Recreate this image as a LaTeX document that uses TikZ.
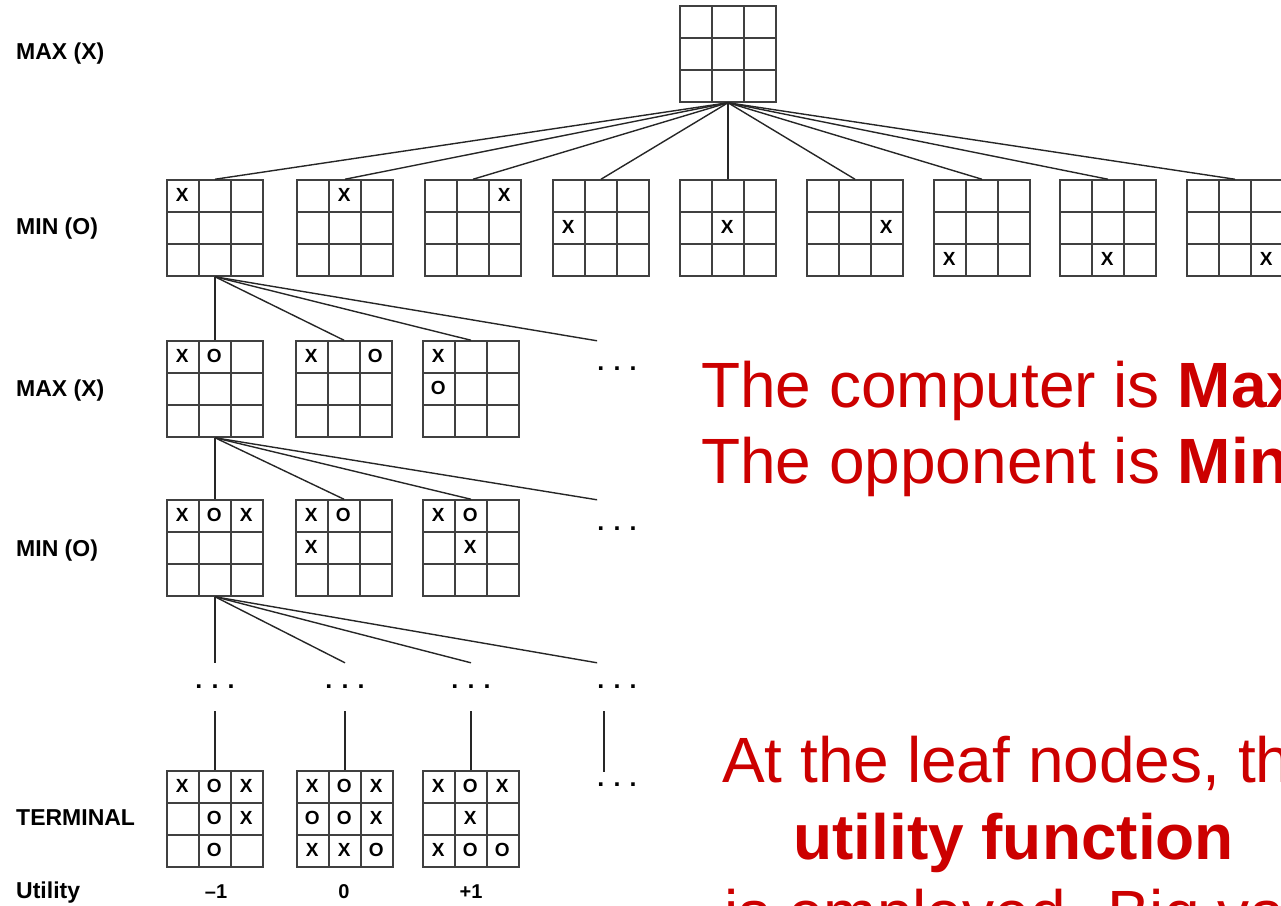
\documentclass[tikz,border=0pt]{standalone}
\usepackage{fontspec}
\setmainfont{Liberation Sans}
\usetikzlibrary{calc,positioning}
\definecolor{slidered}{RGB}{204,0,0}
\tikzset{
  board/.style={draw=black!75, line width=1.5pt, minimum size=96pt, inner sep=0pt,
    path picture={
      \foreach \d in {-16,16}{
        \draw[black!75, line width=1.5pt] ($(path picture bounding box.center)+(\d,-48)$) -- ++(0,96);
        \draw[black!75, line width=1.5pt] ($(path picture bounding box.center)+(-48,\d)$) -- ++(96,0);
      }}},
  mk/.style={font=\bfseries\fontsize{19}{19}\selectfont, inner sep=0pt},
  edge/.style={draw=black!85, line width=1.4pt},
  dots/.style={font=\bfseries\fontsize{25}{25}\selectfont, inner sep=0pt},
  lvl/.style={font=\bfseries\fontsize{23}{23}\selectfont, anchor=base west, inner sep=0pt},
  util/.style={font=\bfseries\fontsize{20}{20}\selectfont, anchor=base, inner sep=0pt},
  note/.style={text=slidered, font=\fontsize{64}{64}\selectfont, inner sep=0pt, anchor=base west}
}
\newcommand{\putmarks}[2]{\foreach \col/\row/\sym in {#2} \node[mk] at ($(#1.north west)+(\col*32-16,\row*32-16)$) {\sym};}

\begin{document}
\begin{tikzpicture}[x=1pt,y=-1pt]
\useasboundingbox (0,0) rectangle (1281,905);
\clip (0,0) rectangle (1281,905);

\node[board] (r0) at (728,54) {};%root

\foreach \i/\px in {1/215,2/345,3/473,4/601,5/728,6/855,7/982,8/1108,9/1235}{
  \node[board] (m\i) at (\px,228) {};
  \pgfmathtruncatemacro{\col}{mod(\i-1,3)+1}
  \pgfmathtruncatemacro{\row}{div(\i-1,3)+1}
  \node[mk] at ($(m\i.north west)+(\col*32-16,\row*32-16)$) {X};
  \draw[edge] (r0.south) -- (m\i.north);
}%first move of X

\node[board] (x1) at (215,389) {};%second level
\node[board] (x2) at (344,389) {};
\node[board] (x3) at (471,389) {};
\node[dots, minimum height=56pt] (d2) at (617,369) {. . .};
\putmarks{x1}{1/1/X,2/1/O}
\putmarks{x2}{1/1/X,3/1/O}
\putmarks{x3}{1/1/X,1/2/O}

\node[board] (n1) at (215,548) {};%third level
\node[board] (n2) at (344,548) {};
\node[board] (n3) at (471,548) {};
\node[dots, minimum height=58pt] (d3) at (617,529) {. . .};
\putmarks{n1}{1/1/X,2/1/O,3/1/X}
\putmarks{n2}{1/1/X,2/1/O,1/2/X}
\putmarks{n3}{1/1/X,2/1/O,2/2/X}

\node[dots, minimum height=48pt] (g1) at (215,687) {. . .};%unexpanded levels
\node[dots, minimum height=48pt] (g2) at (345,687) {. . .};
\node[dots, minimum height=48pt] (g3) at (471,687) {. . .};
\node[dots, minimum height=48pt] (g4) at (617,687) {. . .};

\node[board] (t1) at (215,819) {};%terminal
\node[board] (t2) at (345,819) {};
\node[board] (t3) at (471,819) {};
\node[dots, minimum height=26pt] (g5) at (617,785) {. . .};
\putmarks{t1}{1/1/X,2/1/O,3/1/X,2/2/O,3/2/X,2/3/O}
\putmarks{t2}{1/1/X,2/1/O,3/1/X,1/2/O,2/2/O,3/2/X,1/3/X,2/3/X,3/3/O}
\putmarks{t3}{1/1/X,2/1/O,3/1/X,2/2/X,1/3/X,2/3/O,3/3/O}

\foreach \j in {x1,x2,x3} \draw[edge] (m1.south) -- (\j.north);
\draw[edge] (m1.south) -- (d2.north west);
\foreach \j in {n1,n2,n3} \draw[edge] (x1.south) -- (\j.north);
\draw[edge] (x1.south) -- (d3.north west);
\foreach \j in {g1,g2,g3} \draw[edge] (n1.south) -- (\j.north);
\draw[edge] (n1.south) -- (g4.north west);
\draw[edge] (g1.south) -- (t1.north);
\draw[edge] (g2.south) -- (t2.north);
\draw[edge] (g3.south) -- (t3.north);
\draw[edge] ([xshift=7pt]g4.south west) -- ([xshift=7pt]g5.north west);

\node[lvl] (l0) at (16,59) {MAX (X)};
\node[lvl] (l1) at (16,234) {MIN (O)};
\node[lvl] (l2) at (16,396) {MAX (X)};
\node[lvl] (l3) at (16,556) {MIN (O)};
\node[lvl] (l4) at (16,825) {TERMINAL};
\node[lvl] (l5) at (16,898) {Utility};

\node[util] (u1) at (216,898) {–1};
\node[util] (u2) at (344,898) {0};
\node[util] (u3) at (471,898) {+1};

\node[note] (who1) at (701,407) {The computer is \textbf{Max}};
\node[note] (who2) at (701,483) {The opponent is \textbf{Min}};
\node[note] (leaf1) at (722,782) {At the leaf nodes, the};
\node[note] (leaf2) at (793,859) {\textbf{utility function}};
\node[note] (leaf3) at (724,935) {is employed. Big value};
\end{tikzpicture}
\end{document}
